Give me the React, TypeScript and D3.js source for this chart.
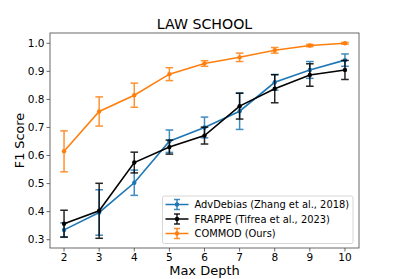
import React from "react";
import * as d3 from "d3";

const depths = [2, 3, 4, 5, 6, 7, 8, 9, 10];
const advMean = [0.335, 0.397, 0.503, 0.651, 0.700, 0.758, 0.861, 0.905, 0.940];
const advErr = [0.025, 0.081, 0.045, 0.04, 0.037, 0.065, 0.028, 0.03, 0.022];
const frapMean = [0.357, 0.403, 0.575, 0.630, 0.671, 0.776, 0.838, 0.887, 0.905];
const frapErr = [0.048, 0.098, 0.037, 0.025, 0.03, 0.046, 0.05, 0.04, 0.034];
const comMean = [0.615, 0.757, 0.815, 0.890, 0.928, 0.950, 0.975, 0.992, 1.0];
const comErr = [0.073, 0.052, 0.043, 0.023, 0.01, 0.015, 0.01, 0.004, 0.003];
const seriesNames = ["AdvDebias (Zhang et al., 2018)", "FRAPPE (Tifrea et al., 2023)", "COMMOD (Ours)"];
const seriesColors = ["#1f77b4", "#000000", "#ff7f0e"];
const yTicks = [0.3, 0.4, 0.5, 0.6, 0.7, 0.8, 0.9, 1.0];
const xTicks = [2, 3, 4, 5, 6, 7, 8, 9, 10];

const W = 399, H = 279;
const L = 50, R = 359, T = 33, B = 248;
const FONT = "DejaVu Sans, sans-serif";

export default function App() {
  const x = d3.scaleLinear().domain([1.6, 10.4]).range([L, R]);
  const y = d3.scaleLinear().domain([0.2704, 1.0367]).range([B, T]);
  const line = d3.line<[number, number]>().x(d => x(d[0])).y(d => y(d[1]));
  const series = [
    { m: advMean, e: advErr },
    { m: frapMean, e: frapErr },
    { m: comMean, e: comErr },
  ];
  const cap = 3.8;
  return (
    <svg width={W} height={H} style={{ position: "absolute", left: 0, top: 0 }} fontFamily={FONT}>
      <rect x={0} y={0} width={W} height={H} fill="#fff" />
      <text x={(L + R) / 2} y={29} textAnchor="middle" fontSize={14.2} fill="#000">LAW SCHOOL</text>
      {series.map((s, si) => (
        <g key={si}>
          {depths.map((dv, i) => (
            <g key={i} stroke={seriesColors[si]} strokeWidth={1.5} opacity={0.85}>
              <line x1={x(dv)} x2={x(dv)} y1={y(s.m[i] - s.e[i])} y2={y(s.m[i] + s.e[i])} />
              <line x1={x(dv) - cap} x2={x(dv) + cap} y1={y(s.m[i] - s.e[i])} y2={y(s.m[i] - s.e[i])} />
              <line x1={x(dv) - cap} x2={x(dv) + cap} y1={y(s.m[i] + s.e[i])} y2={y(s.m[i] + s.e[i])} />
            </g>
          ))}
          <path d={line(depths.map((dv, i) => [dv, s.m[i]] as [number, number])) || ""} fill="none" stroke={seriesColors[si]} strokeWidth={1.6} />
          {depths.map((dv, i) => (
            <circle key={i} cx={x(dv)} cy={y(s.m[i])} r={2.2} fill={seriesColors[si]} />
          ))}
        </g>
      ))}
      <rect x={L} y={T} width={R - L} height={B - T} fill="none" stroke="#444" strokeWidth={0.8} />
      {yTicks.map(t => (
        <g key={t}>
          <line x1={L - 3.5} x2={L} y1={y(t)} y2={y(t)} stroke="#444" strokeWidth={0.8} />
          <text x={L - 5.5} y={y(t)} dy="0.36em" textAnchor="end" fontSize={10.5} fill="#000">{t.toFixed(1)}</text>
        </g>
      ))}
      {xTicks.map(t => (
        <g key={t}>
          <line x1={x(t)} x2={x(t)} y1={B} y2={B + 3.5} stroke="#444" strokeWidth={0.8} />
          <text x={x(t)} y={B + 12.5} textAnchor="middle" fontSize={10.5} fill="#000">{t}</text>
        </g>
      ))}
      <text x={(L + R) / 2} y={275} textAnchor="middle" fontSize={13} fill="#000">Max Depth</text>
      <text transform={`translate(24, ${(T + B) / 2}) rotate(-90)`} textAnchor="middle" fontSize={12.8} fill="#000">F1 Score</text>
      <g>
        <rect x={162.5} y={196} width={190.5} height={47.5} rx={2} fill="#fff" fillOpacity={0.8} stroke="#ccc" strokeWidth={0.8} />
        {seriesNames.map((n, i) => {
          const ry = 204.5 + i * 14.5;
          return (
            <g key={n}>
              <line x1={165.5} x2={188.5} y1={ry} y2={ry} stroke={seriesColors[i]} strokeWidth={1.5} />
              <line x1={177} x2={177} y1={ry - 5} y2={ry + 5} stroke={seriesColors[i]} strokeWidth={1.5} opacity={0.85} />
              <line x1={174} x2={180} y1={ry - 5} y2={ry - 5} stroke={seriesColors[i]} strokeWidth={1.5} opacity={0.85} />
              <line x1={174} x2={180} y1={ry + 5} y2={ry + 5} stroke={seriesColors[i]} strokeWidth={1.5} opacity={0.85} />
              <circle cx={177} cy={ry} r={2.2} fill={seriesColors[i]} />
              <text x={194.5} y={ry} dy="0.36em" fontSize={9.9} fill="#000">{n}</text>
            </g>
          );
        })}
      </g>
    </svg>
  );
}
